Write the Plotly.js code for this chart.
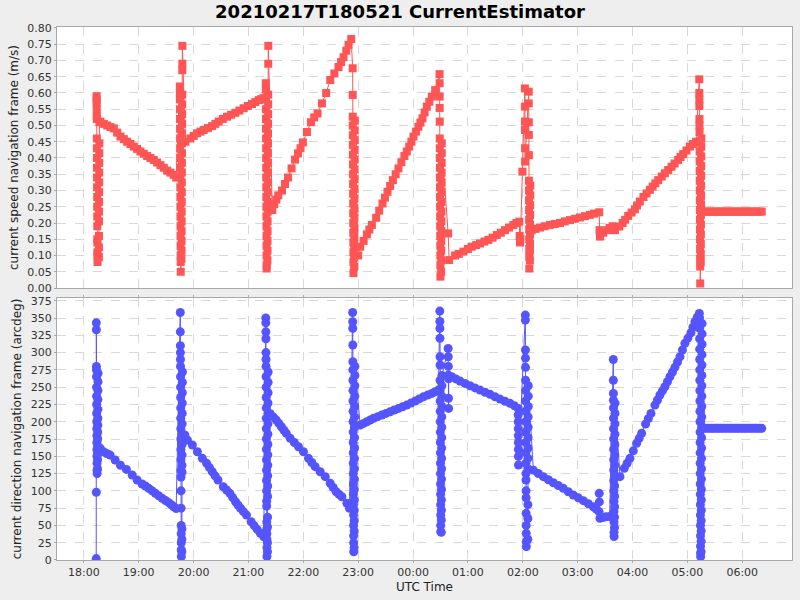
<!DOCTYPE html>
<html>
<head>
<meta charset="utf-8">
<script src="https://cdn.plot.ly/plotly-3.0.1.min.js"></script>
<style>
  html, body { margin: 0; padding: 0; background: #eeeeee; }
  #plot { width: 800px; height: 600px; }
</style>
</head>
<body>
<div id="plot"></div>
<script>
// times are minutes after 2021-02-17 18:00 UTC
const chartTitle = "20210217T180521 CurrentEstimator";
const speedTitle = "current speed navigation frame (m/s)";
const dirTitle = "current direction navigation frame (arcdeg)";
const timeTitle = "UTC Time";

const speedMinutes = [
  // cluster 18:14
  14.00, 14.05, 14.10, 14.15, 14.20, 14.25, 14.30, 14.35, 14.40, 14.45, 14.50, 14.55, 14.60, 14.65, 14.70, 14.75, 14.80, 14.85, 14.90, 14.95, 15.00,
  16.50, 16.55, 16.60, 16.65, 16.70, 16.75, 16.80, 16.85, 16.90, 16.95, 17.00, 17.05, 17.10,
  // descent to 19:41
  18.2, 21.9, 25.6, 29.2, 32.8, 36.5, 40.1, 43.8, 47.4, 51.0, 54.6, 58.3, 61.9, 65.6, 69.3, 72.9, 76.5, 80.2, 83.8, 87.5, 91.1, 94.7, 98.3, 101.0,
  // cluster 19:46
  105.00, 105.05, 105.10, 105.15, 105.20, 105.25, 105.30, 105.35, 105.40, 105.45, 105.50, 105.55, 105.60, 105.65, 105.70, 105.75, 105.80, 105.85, 105.90, 105.95, 106.00,
  106.80, 106.85, 106.90, 106.95, 107.00, 107.05, 107.10, 107.15, 107.20, 107.25, 107.30, 107.35, 107.40, 107.45, 107.50, 107.55, 107.60, 107.65, 107.70, 107.75, 107.80,
  // rise to 21:16
  111.1, 116.5, 120.2, 123.9, 127.5, 131.1, 135.7, 140.3, 143.9, 147.5, 152.0, 156.6, 161.1, 165.7, 170.2, 174.8, 179.3, 183.9, 187.5, 191.2, 194.0, 196.6,
  // cluster 21:19
  199.00, 199.05, 199.10, 199.15, 199.20, 199.25, 199.30, 199.35, 199.40, 199.45, 199.50, 199.55, 199.60, 199.65, 199.70, 199.75, 199.80, 199.85, 199.90, 199.95, 200.00,
  200.80, 200.85, 200.90, 200.95, 201.00, 201.05, 201.10, 201.15, 201.20, 201.25, 201.30, 201.35, 201.40, 201.45, 201.50, 201.55, 201.60, 201.65, 201.70, 201.75,
  // rise to 22:52
  206.1, 208.3, 210.5, 212.7, 216.7, 220.0, 223.3, 227.2, 231.0, 234.2, 237.0, 239.6, 244.0, 248.4, 252.0, 255.6, 260.4, 265.0, 269.5, 274.0, 278.5, 281.3, 284.0, 287.0, 289.5, 292.4,
  // cluster 22:54
  294.00, 294.05, 294.10, 294.15, 294.20, 294.25, 294.30, 294.35, 294.40, 294.45, 294.50, 294.55, 294.60, 294.65, 294.70, 294.75, 294.80, 294.85, 294.90,
  295.60, 295.65, 295.70, 295.75, 295.80, 295.85, 295.90, 295.95, 296.00, 296.05, 296.10, 296.15, 296.20, 296.25, 296.30, 296.35,
  // rise to 00:24
  300.0, 302.2, 306.0, 309.6, 312.3, 315.0, 319.7, 323.0, 326.6, 329.3, 332.1, 335.0, 338.0, 341.0, 344.1, 347.3, 350.6, 353.2, 355.8, 358.2, 360.5, 363.2, 365.9, 368.1, 370.3, 372.7, 375.1, 377.8, 380.6, 384.2,
  // cluster 00:29
  389.00, 389.05, 389.10, 389.15, 389.20, 389.25, 389.30, 389.35, 389.40, 389.45, 389.50, 389.55, 389.60, 389.65, 389.70, 389.75, 389.80, 389.85, 389.90, 389.95,
  390.80, 390.85, 390.90, 390.95, 391.00, 391.05, 391.10, 391.15, 391.20, 391.25, 391.30, 391.35, 391.40, 391.45,
  398.4, 399.5,
  // slow rise to 01:56
  406.0, 410.0, 415.1, 420.0, 424.2, 429.0, 433.3, 438.0, 442.4, 447.0, 451.6, 456.0, 460.6, 465.0, 469.7, 473.0, 476.2,
  // cluster 02:00
  476.6, 477.0, 477.4, 479.6,
  482.30, 482.35, 482.40, 482.45, 482.50, 482.55,
  486.50, 486.55, 486.60, 486.65, 486.70, 486.75, 486.80, 486.85, 486.90, 486.95, 487.00, 487.05, 487.10, 487.15, 487.20,
  487.80, 487.85, 487.90, 487.95, 488.00, 488.05, 488.10, 488.15, 488.20,
  // slow rise, drop at 03:24, rise to 05:10
  489.8, 494.0, 498.8, 504.0, 509.7, 515.0, 520.7, 526.0, 531.6, 537.0, 542.5, 548.0, 553.4, 558.0, 563.6,
  564.0, 564.4, 568.0, 572.4, 575.0, 578.3, 580.8, 585.5, 589.2, 592.0, 595.3, 599.0, 602.6, 605.0, 608.0,
  612.0, 615.4, 619.0, 622.0, 625.0, 628.1, 632.0, 635.4, 639.0, 642.7, 646.0, 649.9, 652.5, 655.4, 659.0, 662.7, 666.0, 669.5,
  // cluster 05:13
  673.00, 673.05, 673.10, 673.15, 673.20, 673.25, 673.30, 673.35, 673.40, 673.45, 673.50, 673.55, 673.60, 673.65, 673.70, 673.75, 673.80, 673.85, 673.90, 673.95, 674.00, 674.05,
  674.60, 674.65, 674.70, 674.75, 674.80, 674.85, 674.90, 674.95, 675.00, 675.05, 675.10, 675.15, 675.20, 675.25,
  // flat to 06:21
  679.0, 681.5, 684.0, 686.5, 689.0, 691.5, 694.0, 696.5, 699.0, 701.5, 704.0, 706.5, 709.0, 711.5, 714.0, 716.5, 719.0, 721.5, 724.0, 726.5, 729.0, 731.5, 734.0, 736.5, 739.0, 741.3
];

const speedValues = [
  0.59, 0.58, 0.57, 0.55, 0.53, 0.52, 0.46, 0.43, 0.40, 0.37, 0.34, 0.31, 0.28, 0.25, 0.22, 0.19, 0.15, 0.14, 0.11, 0.10, 0.08,
  0.095, 0.125, 0.16, 0.205, 0.235, 0.265, 0.295, 0.325, 0.355, 0.385, 0.415, 0.445, 0.51,
  0.512, 0.505, 0.500, 0.495, 0.491, 0.478, 0.466, 0.458, 0.450, 0.443, 0.435, 0.428, 0.420, 0.413, 0.406, 0.400, 0.394, 0.386, 0.378, 0.370, 0.361, 0.355, 0.348, 0.340,
  0.62, 0.60, 0.58, 0.55, 0.52, 0.49, 0.46, 0.43, 0.40, 0.37, 0.34, 0.31, 0.28, 0.25, 0.22, 0.19, 0.16, 0.13, 0.10, 0.08, 0.05,
  0.09, 0.115, 0.145, 0.175, 0.205, 0.235, 0.265, 0.295, 0.325, 0.355, 0.385, 0.415, 0.445, 0.475, 0.505, 0.535, 0.565, 0.595, 0.67, 0.69, 0.745,
  0.450, 0.460, 0.468, 0.476, 0.481, 0.486, 0.492, 0.498, 0.505, 0.512, 0.520, 0.527, 0.533, 0.539, 0.546, 0.553, 0.560, 0.566, 0.572, 0.578, 0.581, 0.584,
  0.63, 0.61, 0.58, 0.55, 0.52, 0.49, 0.46, 0.43, 0.40, 0.37, 0.34, 0.31, 0.28, 0.25, 0.22, 0.19, 0.16, 0.13, 0.10, 0.07, 0.06,
  0.085, 0.115, 0.145, 0.175, 0.205, 0.235, 0.265, 0.295, 0.325, 0.355, 0.385, 0.415, 0.445, 0.475, 0.505, 0.535, 0.565, 0.595, 0.69, 0.745,
  0.240, 0.258, 0.272, 0.285, 0.300, 0.320, 0.340, 0.368, 0.395, 0.414, 0.430, 0.448, 0.480, 0.510, 0.525, 0.537, 0.568, 0.600, 0.640, 0.660, 0.680, 0.695, 0.710, 0.730, 0.748, 0.766,
  0.676, 0.594, 0.527, 0.50, 0.47, 0.44, 0.41, 0.38, 0.35, 0.32, 0.29, 0.26, 0.23, 0.20, 0.17, 0.14, 0.11, 0.08, 0.046,
  0.065, 0.095, 0.125, 0.155, 0.185, 0.215, 0.245, 0.275, 0.305, 0.335, 0.365, 0.395, 0.425, 0.455, 0.485, 0.515,
  0.100, 0.127, 0.145, 0.165, 0.180, 0.194, 0.216, 0.238, 0.260, 0.278, 0.296, 0.314, 0.332, 0.350, 0.368, 0.387, 0.406, 0.420, 0.435, 0.450, 0.466, 0.481, 0.496, 0.509, 0.522, 0.540, 0.558, 0.573, 0.589, 0.609,
  0.658, 0.63, 0.589, 0.554, 0.512, 0.46, 0.43, 0.40, 0.37, 0.34, 0.31, 0.28, 0.25, 0.22, 0.19, 0.16, 0.13, 0.10, 0.07, 0.035,
  0.05, 0.085, 0.115, 0.145, 0.175, 0.205, 0.235, 0.265, 0.295, 0.325, 0.355, 0.385, 0.415, 0.445,
  0.168, 0.086,
  0.100, 0.105, 0.112, 0.120, 0.127, 0.132, 0.137, 0.143, 0.148, 0.155, 0.163, 0.170, 0.178, 0.186, 0.194, 0.200, 0.204,
  0.16, 0.14, 0.15, 0.358,
  0.614, 0.558, 0.512, 0.486, 0.43, 0.389,
  0.604, 0.568, 0.51, 0.471, 0.409, 0.33, 0.30, 0.27, 0.24, 0.21, 0.18, 0.15, 0.12, 0.096, 0.06,
  0.085, 0.115, 0.135, 0.165, 0.195, 0.225, 0.255, 0.285, 0.315,
  0.178, 0.182, 0.186, 0.190, 0.194, 0.197, 0.200, 0.205, 0.209, 0.213, 0.217, 0.221, 0.225, 0.229, 0.233,
  0.178, 0.158, 0.170, 0.178, 0.185, 0.190, 0.178, 0.189, 0.200, 0.210, 0.222, 0.232, 0.242, 0.254, 0.266,
  0.280, 0.291, 0.302, 0.312, 0.322, 0.332, 0.343, 0.353, 0.363, 0.373, 0.383, 0.394, 0.403, 0.412, 0.423, 0.435, 0.443, 0.450,
  0.642, 0.60, 0.58, 0.56, 0.52, 0.50, 0.48, 0.45, 0.42, 0.39, 0.36, 0.33, 0.30, 0.27, 0.24, 0.21, 0.18, 0.15, 0.12, 0.09, 0.066, 0.014,
  0.08, 0.105, 0.135, 0.165, 0.195, 0.225, 0.255, 0.285, 0.315, 0.345, 0.375, 0.405, 0.435, 0.46,
  0.235, 0.235, 0.235, 0.235, 0.235, 0.235, 0.235, 0.235, 0.235, 0.235, 0.235, 0.235, 0.235, 0.235, 0.235, 0.235, 0.235, 0.235, 0.235, 0.235, 0.235, 0.235, 0.235, 0.235, 0.235, 0.235
];

const dirMinutes = [
  // cluster 18:14
  13.60, 13.65, 13.70, 13.75, 13.80, 13.85, 13.90, 13.95, 14.00, 14.05, 14.10, 14.15, 14.20, 14.25, 14.30, 14.35, 14.40, 14.45, 14.50, 14.55,
  15.00, 15.05, 15.10, 15.15, 15.20, 15.25, 15.30, 15.35, 15.40, 15.45, 15.50, 15.55, 15.60,
  // descent
  18.0, 21.5, 25.0, 28.8, 34.3, 40.1, 46.6, 52.9, 58.3, 63.8, 67.4, 71.0, 74.7, 78.3, 82.0, 85.7, 89.3, 92.9, 95.6, 98.3, 101.0,
  // cluster 19:46
  105.50, 105.55, 105.60, 105.65, 105.70, 105.75, 105.80, 105.85, 105.90, 105.95, 106.00, 106.05, 106.10, 106.15, 106.20, 106.25, 106.30, 106.35, 106.40, 106.45, 106.50, 106.55, 106.60, 106.65,
  107.20, 107.25, 107.30, 107.35, 107.40, 107.45, 107.50, 107.55, 107.60, 107.65, 107.70, 107.75, 107.80, 107.85,
  // descent
  110.5, 113.3, 118.7, 124.2, 129.6, 134.3, 137.4, 140.5, 143.6, 146.7, 152.5, 156.1, 159.7, 162.8, 165.9, 168.6, 171.4, 174.6, 177.9, 183.0, 186.3, 189.6, 193.1, 196.8,
  // cluster 21:19
  199.00, 199.05, 199.10, 199.15, 199.20, 199.25, 199.30, 199.35, 199.40, 199.45, 199.50, 199.55, 199.60, 199.65, 199.70, 199.75, 199.80, 199.85, 199.90, 199.95, 200.00, 200.05, 200.10, 200.15, 200.20, 200.25, 200.30,
  200.80, 200.85, 200.90, 200.95, 201.00, 201.05, 201.10, 201.15, 201.20, 201.25, 201.30, 201.35, 201.40, 201.45, 201.50, 201.55, 201.60,
  // descent
  203.9, 207.2, 210.5, 213.3, 216.0, 218.7, 221.4, 225.7, 230.2, 234.8, 240.2, 245.7, 249.3, 253.0, 258.5, 264.0, 269.5, 272.7, 276.0, 279.1, 282.2, 287.7, 290.5,
  // cluster 22:54
  294.00, 294.05, 294.10, 294.15, 294.20, 294.25, 294.30, 294.35, 294.40, 294.45, 294.50, 294.55, 294.60, 294.65, 294.70, 294.75, 294.80, 294.85, 294.90, 294.95, 295.00, 295.05, 295.10, 295.15,
  295.60, 295.65, 295.70, 295.75, 295.80, 295.85, 295.90, 295.95, 296.00, 296.05, 296.10, 296.15, 296.20, 296.25, 296.30, 296.35, 296.40, 296.45,
  // rise
  302.2, 306.0, 309.6, 313.2, 316.8, 321.4, 326.0, 330.5, 335.0, 339.5, 344.1, 348.7, 353.2, 357.8, 362.3, 366.9, 371.4, 376.0, 380.6, 384.2, 387.8,
  // cluster 00:30
  389.30, 389.35, 389.40, 389.45, 389.50, 389.55, 389.60, 389.65, 389.70, 389.75, 389.80, 389.85, 389.90, 389.95, 390.00, 390.05, 390.10, 390.15, 390.20, 390.25, 390.30, 390.35,
  390.90, 390.95, 391.00, 391.05, 391.10, 391.15, 391.20, 391.25, 391.30, 391.35, 391.40, 391.45, 391.50, 391.55, 391.60, 391.65,
  398.4, 398.5, 398.6, 398.7, 398.8, 398.9, 399.0,
  // descent
  402.3, 406.8, 411.4, 416.8, 422.3, 427.8, 433.3, 438.8, 444.2, 449.6, 455.1, 460.5, 466.0, 471.0, 475.0,
  // cluster 02:00
  475.00, 475.05, 475.10, 475.15, 475.20, 475.25, 475.30, 475.35,
  482.80, 482.85, 482.90, 482.95, 483.00, 483.05, 483.10, 483.15, 483.20, 483.25, 483.30, 483.35, 483.40, 483.45, 483.50, 483.55, 483.60, 483.65, 483.70, 483.75, 483.80, 483.85, 483.90,
  485.50, 485.55, 485.60, 485.65, 485.70, 485.75, 485.80, 485.85, 485.90, 485.95, 486.00, 486.05,
  // descent to 03:24
  491.6, 497.0, 502.5, 508.0, 513.4, 518.8, 524.3, 529.8, 535.3, 540.8, 546.2, 551.7, 557.1, 560.4, 563.4, 563.6, 563.8, 564.4, 567.5, 571.0, 575.0,
  // cluster 03:39
  579.00, 579.05, 579.10, 579.15, 579.20, 579.25, 579.30, 579.35, 579.40, 579.45, 579.50, 579.55, 579.60, 579.65, 579.70, 579.75, 579.80, 579.85,
  580.30, 580.35, 580.40, 580.45, 580.50, 580.55, 580.60, 580.65, 580.70, 580.75, 580.80, 580.85, 580.90,
  // rise to 05:13
  586.3, 591.0, 594.1, 597.2, 600.9, 604.5, 607.3, 610.0, 614.3, 617.3, 620.2, 624.5, 627.3, 630.0, 632.7, 635.4, 638.2, 640.9, 643.7, 646.4, 649.2, 651.9, 654.6, 657.3, 660.6, 663.9, 666.1, 668.3, 670.7, 673.1,
  // cluster 05:13
  673.30, 673.35, 673.40, 673.45, 673.50, 673.55, 673.60, 673.65, 673.70, 673.75, 673.80, 673.85, 673.90, 673.95, 674.00, 674.05, 674.10, 674.15, 674.20, 674.25, 674.30, 674.35, 674.40, 674.45, 674.50,
  675.00, 675.05, 675.10, 675.15, 675.20, 675.25, 675.30, 675.35, 675.40, 675.45, 675.50, 675.55, 675.60, 675.65, 675.70, 675.75, 675.80, 675.85, 675.90, 675.95, 676.00, 676.05, 676.10,
  // flat
  679.0, 681.5, 684.0, 686.5, 689.0, 691.5, 694.0, 696.5, 699.0, 701.5, 704.0, 706.5, 709.0, 711.5, 714.0, 716.5, 719.0, 721.5, 724.0, 726.5, 729.0, 731.5, 734.0, 736.5, 739.0, 741.3
];

const dirValues = [
  2, 98, 343, 333, 280, 275, 265, 250, 237, 225, 212, 200, 190, 180, 170, 160, 150, 140, 130, 125,
  132, 145, 155, 165, 175, 185, 195, 205, 218, 232, 245, 258, 270,
  161.5, 156.6, 154.0, 151.8, 144.6, 137.0, 131.0, 123.0, 115.7, 110.0, 107.0, 103.7, 100.0, 96.4, 92.8, 89.2, 86.0, 82.9, 80.0, 77.0, 74.5,
  358, 330, 310, 300, 290, 280, 265, 250, 235, 220, 205, 190, 175, 160, 145, 130, 120, 100, 75, 50, 38, 25, 15, 5,
  12, 30, 45, 127, 137, 152, 167, 182, 197, 212, 227, 242, 257, 272,
  180.8, 173.5, 166.3, 156.6, 147.0, 139.8, 133.7, 127.7, 121.7, 115.7, 106.0, 101.2, 96.4, 90.3, 84.3, 79.5, 74.8, 69.9, 65.0, 55.4, 49.8, 44.3, 38.6, 33.7,
  350, 343, 330, 320, 300, 290, 280, 265, 250, 235, 220, 205, 190, 175, 160, 145, 130, 115, 100, 85, 78, 55, 45, 38, 30, 18, 5,
  12, 25, 48, 62, 92, 107, 122, 137, 152, 167, 182, 197, 212, 227, 242, 257, 272,
  211.6, 207.0, 202.4, 197.6, 192.8, 188.0, 183.2, 176.0, 170.0, 163.8, 156.6, 147.0, 141.0, 135.0, 127.7, 120.5, 110.9, 104.8, 98.8, 95.1, 91.5, 82.0, 74.8,
  358, 344.6, 335, 311, 286.7, 275, 260, 245, 230, 215, 200, 185, 170, 155, 140, 125, 110, 95, 80, 65, 50, 35, 25, 12,
  18, 42, 57, 72, 87, 102, 117, 132, 147, 162, 177, 192, 207, 222, 237, 252, 267, 280,
  195.2, 197.6, 200.0, 202.5, 204.9, 207.3, 209.7, 212.0, 214.4, 216.9, 219.3, 221.7, 224.1, 227.0, 229.9, 233.0, 236.1, 238.5, 241.0, 243.4, 245.8,
  360, 345, 335, 320.6, 294, 282, 260, 245, 230, 215, 200, 185, 170, 155, 140, 125, 110, 95, 80, 65, 50, 41,
  40, 58, 72, 87, 102, 117, 132, 147, 162, 177, 192, 207, 222, 237, 252, 267,
  306, 294, 280, 267.5, 233.8, 219.3, 262,
  265.0, 261.9, 258.8, 255.4, 252.0, 248.9, 245.8, 242.7, 239.6, 236.2, 232.8, 229.7, 226.6, 223.0, 219.3,
  209.7, 200, 190, 180, 170, 160, 150, 137.4,
  354.3, 347, 303.7, 292, 278.7, 260, 245, 230, 215, 200, 185, 170, 155, 140, 125, 115.7, 100, 90, 67.5, 50, 38.6, 26.5, 19.3,
  30, 60, 80, 132, 147, 162, 177, 192, 207, 222, 237, 252,
  130.0, 125.2, 120.5, 116.1, 111.8, 107.7, 103.7, 98.8, 94.0, 89.9, 85.8, 81.4, 77.0, 73.5, 69.9, 96.4, 84.0, 60.3, 61.5, 62.6, 63.0,
  290, 260, 241, 231, 220, 205, 190, 175, 160, 145, 130, 115, 100, 85, 70, 55, 40, 34,
  47, 62, 77, 92, 107, 122, 137, 152, 167, 182, 197, 212, 227,
  120.5, 132.6, 139.8, 147.0, 157.9, 168.7, 176.0, 183.2, 196.7, 204.4, 212.0, 224.1, 231.4, 238.6, 244.6, 250.6, 257.8, 265.0, 271.9, 278.7, 286.4, 294.0, 303.7, 313.4, 321.0, 328.7, 336.7, 344.6, 350.7, 356.7,
  350, 335, 320, 305, 290, 275, 260, 245, 230, 215, 200, 185, 170, 155, 140, 125, 110, 95, 80, 65, 50, 35, 20, 10, 4.8,
  12, 27, 42, 57, 72, 87, 102, 117, 132, 147, 162, 177, 192, 207, 222, 237, 252, 267, 282, 297, 312, 327, 342,
  190.4, 190.4, 190.4, 190.4, 190.4, 190.4, 190.4, 190.4, 190.4, 190.4, 190.4, 190.4, 190.4, 190.4, 190.4, 190.4, 190.4, 190.4, 190.4, 190.4, 190.4, 190.4, 190.4, 190.4, 190.4, 190.4
];

const BASE_MS = Date.UTC(2021, 1, 17, 18, 0, 0);
const X_START_MIN = -29.3;
const X_END_MIN = 774.4;

function toDate(min) {
  return new Date(BASE_MS + min * 60000).toISOString().replace("T", " ").slice(0, 23);
}

const GRID = "#d8d8d8";
const FRAME = "#a8a8a8";
const FONT = "DejaVu Sans, Liberation Sans, sans-serif";

function yAxis(domain, range, dtick, fmt, title) {
  return {
    domain,
    range,
    dtick,
    tick0: 0,
    tickformat: fmt,
    showgrid: true,
    gridcolor: GRID,
    griddash: "dash",
    gridwidth: 1,
    zeroline: false,
    showline: true,
    linecolor: FRAME,
    linewidth: 1,
    mirror: true,
    ticks: "outside",
    ticklen: 2,
    tickcolor: FRAME,
    tickfont: { family: FONT, size: 11, color: "#333333" },
    title: { text: title, font: { family: FONT, size: 12, color: "#222222" }, standoff: 6 },
    fixedrange: true,
  };
}

const speedTrace = {
  type: "scatter",
  mode: "lines+markers",
  x: speedMinutes.map(toDate),
  y: speedValues,
  xaxis: "x",
  yaxis: "y",
  line: { color: "#ff5555", width: 1 },
  marker: { symbol: "square", size: 8, color: "#ff5555" },
  hoverinfo: "skip",
};

const dirTrace = {
  type: "scatter",
  mode: "lines+markers",
  x: dirMinutes.map(toDate),
  y: dirValues,
  xaxis: "x",
  yaxis: "y2",
  line: { color: "#5555ff", width: 1 },
  marker: { symbol: "circle", size: 9, color: "#5555ff" },
  hoverinfo: "skip",
};

const layout = {
  width: 800,
  height: 600,
  paper_bgcolor: "#eeeeee",
  plot_bgcolor: "#ffffff",
  margin: { l: 57, r: 8, t: 27, b: 40 },
  showlegend: false,
  font: { family: FONT, size: 11, color: "#333333" },
  title: {
    text: chartTitle,
    font: { family: FONT, size: 18, color: "#000000", weight: "bold" },
    x: 0.5,
    xanchor: "center",
    y: 0.98,
    yanchor: "middle",
  },
  xaxis: {
    type: "date",
    anchor: "y2",
    range: [toDate(X_START_MIN), toDate(X_END_MIN)],
    tick0: toDate(0),
    dtick: 3600000,
    tickformat: "%H:%M",
    showgrid: true,
    gridcolor: GRID,
    griddash: "dash",
    zeroline: false,
    showline: true,
    linecolor: FRAME,
    mirror: "all",
    ticks: "outside",
    ticklen: 2,
    tickcolor: FRAME,
    tickfont: { family: FONT, size: 11, color: "#333333" },
    title: { text: timeTitle, font: { family: FONT, size: 12, color: "#222222" }, standoff: 4 },
    fixedrange: true,
  },
  yaxis: yAxis([0.5103, 1], [0, 0.803], 0.05, ".2f", speedTitle),
  yaxis2: yAxis([0, 0.4916], [0, 379], 25, "d", dirTitle),
};

Plotly.newPlot("plot", [speedTrace, dirTrace], layout, {
  displayModeBar: false,
  staticPlot: true,
});
</script>
</body>
</html>
